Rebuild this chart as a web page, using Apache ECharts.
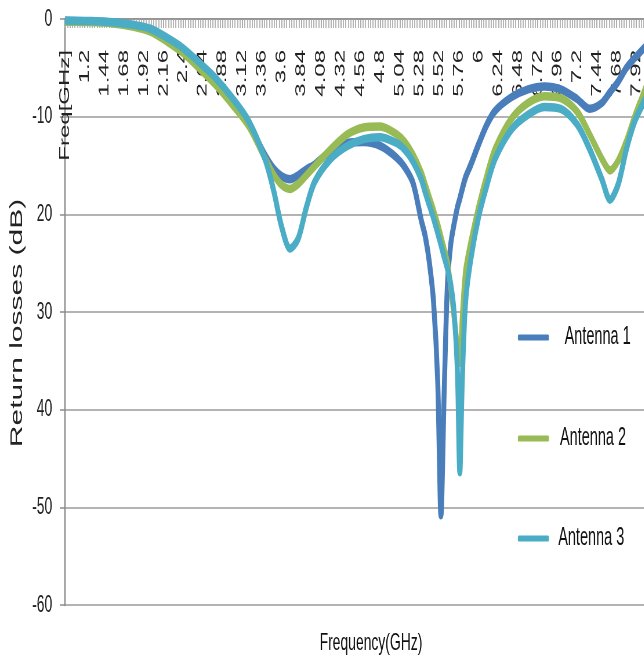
<!DOCTYPE html>
<html>
<head>
<meta charset="utf-8">
<script src="https://cdn.jsdelivr.net/npm/echarts@6/dist/echarts.min.js"></script>
<style>
html,body{margin:0;padding:0;background:#fff;overflow:hidden;width:644px;height:663px}
#c{width:1111px;height:663px;transform:scaleX(0.58);transform-origin:0 0}
</style>
</head>
<body>
<div id="c"></div>
<script>
// Frequency samples (GHz)
const freq = [0.96,1.2,1.5,1.8,2.0,2.2,2.4,2.6,2.8,3.0,3.2,3.4,3.5,3.6,3.7,3.8,3.9,4.0,4.2,4.4,4.6,4.8,5.0,5.1,5.2,5.3,5.35,5.4,5.45,5.5,5.54,5.58,5.62,5.66,5.7,5.74,5.77,5.8,5.84,5.9,6.0,6.1,6.2,6.4,6.6,6.8,7.0,7.2,7.35,7.5,7.6,7.7,7.8,7.9,8.0,8.1];
// Return loss (dB)
const antenna1 = [-0.2,-0.25,-0.35,-0.7,-1.1,-2.0,-3.1,-4.6,-6.2,-8.2,-10.8,-14.0,-15.3,-16.1,-16.4,-16.0,-15.4,-14.9,-13.5,-12.7,-12.6,-13.0,-14.2,-15.2,-16.8,-20.6,-22.3,-25.0,-29.0,-37.0,-50.8,-38.0,-27.0,-23.0,-21.0,-19.3,-18.4,-17.4,-16.2,-15.0,-12.8,-10.8,-9.4,-8.0,-7.2,-6.9,-7.2,-8.2,-9.2,-8.6,-7.5,-6.4,-5.0,-4.0,-3.1,-2.2];
const antenna2 = [-0.25,-0.3,-0.4,-0.8,-1.3,-2.3,-3.5,-5.1,-6.8,-8.8,-11.0,-14.3,-15.9,-17.0,-17.4,-16.9,-16.0,-15.1,-13.3,-11.8,-11.1,-11.0,-11.8,-12.6,-13.9,-15.7,-17.0,-18.3,-19.6,-21.0,-22.3,-23.6,-25.0,-27.5,-30.5,-33.5,-35.2,-30.5,-25.8,-23.0,-19.2,-16.0,-13.3,-10.2,-8.6,-7.9,-8.1,-9.5,-11.8,-14.3,-15.5,-14.5,-12.5,-10.0,-7.8,-5.5];
const antenna3 = [-0.15,-0.2,-0.3,-0.6,-1.0,-1.9,-3.0,-4.5,-6.1,-8.1,-10.5,-14.4,-17.5,-21.3,-23.5,-22.5,-19.3,-16.7,-14.3,-13.0,-12.3,-12.1,-12.7,-13.4,-14.6,-16.4,-17.8,-19.1,-20.4,-21.9,-23.1,-24.4,-25.6,-27.2,-30.0,-36.0,-46.4,-37.0,-29.0,-24.8,-20.2,-17.0,-14.3,-11.3,-9.8,-9.0,-9.2,-10.8,-13.3,-16.4,-18.5,-16.9,-13.3,-10.5,-8.7,-7.0];
// Tick labels
const xTickLabels = ["Freq[GHz]","1.2","1.44","1.68","1.92","2.16","2.4","2.64","2.88","3.12","3.36","3.6","3.84","4.08","4.32","4.56","4.8","5.04","5.28","5.52","5.76","6","6.24","6.48","6.72","6.96","7.2","7.44","7.68","7.92"];
const yTickLabels = ["0","-10","20","30","40","-50","-60"];
const seriesNames = ["Antenna 1","Antenna 2","Antenna 3"];
const colors = ["#4A7EBB","#98BB55","#4BACC6"];

// The reference picture is horizontally squeezed; the chart is laid out wide and squeezed by CSS.
const S = 0.58;
const px = v => v / S;

const pair = arr => freq.map((f,i)=>[f,arr[i]]);
const dataSets = [antenna1, antenna2, antenna3];
const sans = "'Liberation Sans',Arial,sans-serif";

const chart = echarts.init(document.getElementById('c'), null, {renderer:'canvas'});
const legendPos = [
  {left:515, top:320, pad:22},
  {left:515, top:421, pad:14},
  {left:515, top:521, pad:11}
];
chart.setOption({
  animation:false,
  backgroundColor:'#fff',
  grid:{left:px(65), top:19, width:px(591), height:586, containLabel:false, outerBoundsMode:'none'},
  legend: seriesNames.map((n,i)=>({
    data:[n], orient:'vertical', left:px(legendPos[i].left), top:legendPos[i].top,
    icon:'roundRect', itemWidth:px(31), itemHeight:6,
    textStyle:{fontFamily:sans, fontSize:25, color:'#111', padding:[0,0,0,legendPos[i].pad]}
  })),
  xAxis:{
    type:'value', position:'top', min:0.96, max:8.16, interval:0.24,
    axisLine:{show:true, lineStyle:{color:'#8c8c8c', width:1.5}},
    axisTick:{show:true, inside:true, length:9, lineStyle:{color:'#9a9a9a', width:1.6}},
    minorTick:{show:true, splitNumber:8, length:9, lineStyle:{color:'#a4a4a4', width:1.6}},
    splitLine:{show:false},
    axisLabel:{
      inside:true, rotate:90, margin:31, showMaxLabel:false, hideOverlap:false,
      fontFamily:sans, fontSize:24, color:'#222',
      formatter:function(v){const k=Math.round((v-0.96)/0.24); return xTickLabels[k]!==undefined?xTickLabels[k]:'';}
    }
  },
  yAxis:{
    type:'value', min:-60, max:0, interval:10,
    name:'Return losses (dB)', nameLocation:'middle', nameGap:66,
    nameTextStyle:{fontFamily:sans, fontSize:30, color:'#222', padding:[0,22,0,0]},
    axisLine:{show:true, lineStyle:{color:'#8c8c8c', width:2.4}},
    axisTick:{show:true, length:9, lineStyle:{color:'#8c8c8c', width:1.5}},
    splitLine:{show:true, lineStyle:{color:'#9a9a9a', width:1.5}},
    axisLabel:{
      margin:22, fontFamily:sans, fontSize:24, color:'#222',
      formatter:function(v){return yTickLabels[Math.round(-v/10)];}
    }
  },
  graphic:[{
    type:'text', x:px(371), y:643,
    style:{text:'Frequency(GHz)', fontFamily:sans, fontSize:24, fill:'#111', textAlign:'center', textVerticalAlign:'middle'}
  }],
  series: seriesNames.map((n,i)=>({
    name:n, type:'line', data:pair(dataSets[i]), showSymbol:false, smooth:0.3,
    lineStyle:{width:8.5, color:colors[i]}, itemStyle:{color:colors[i]}, clip:true
  }))
});
</script>
</body>
</html>
